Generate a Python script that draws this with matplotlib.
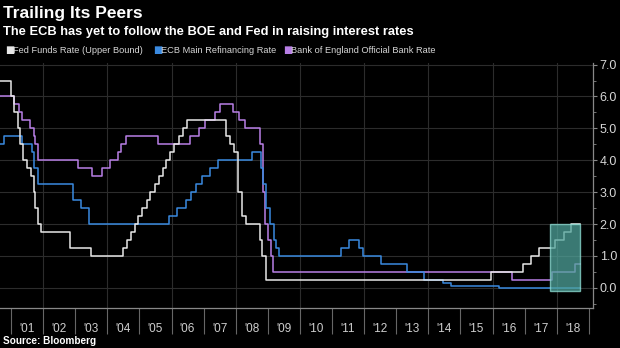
import pandas as pd
import matplotlib
matplotlib.use('Agg')
import matplotlib.pyplot as plt
import matplotlib.dates as mdates
from matplotlib.patches import Rectangle
from matplotlib.ticker import MultipleLocator, FixedLocator, FuncFormatter

plt.rcParams['font.family'] = ['Liberation Sans', 'DejaVu Sans']

# policy rate changes: date the new level took effect, and the level (%)
fed_dates = ['2000-08-28', '2001-01-03', '2001-01-31', '2001-03-20', '2001-04-18',
             '2001-05-15', '2001-06-27', '2001-08-21', '2001-09-17', '2001-10-02',
             '2001-11-06', '2001-12-11', '2002-11-06', '2003-06-25', '2004-06-30',
             '2004-08-10', '2004-09-21', '2004-11-10', '2004-12-14', '2005-02-02',
             '2005-03-22', '2005-05-03', '2005-06-30', '2005-08-09', '2005-09-20',
             '2005-11-01', '2005-12-13', '2006-01-31', '2006-03-28', '2006-05-10',
             '2006-06-29', '2007-09-18', '2007-10-31', '2007-12-11', '2008-01-22',
             '2008-01-30', '2008-03-18', '2008-04-30', '2008-10-08', '2008-10-29',
             '2008-12-16', '2015-12-16', '2016-12-14', '2017-03-15', '2017-06-14',
             '2017-12-13', '2018-03-21', '2018-06-13', '2018-09-20']
fed_rates = [6.5, 6.0, 5.5, 5.0, 4.5,
             4.0, 3.75, 3.5, 3.0, 2.5,
             2.0, 1.75, 1.25, 1.0, 1.25,
             1.5, 1.75, 2.0, 2.25, 2.5,
             2.75, 3.0, 3.25, 3.5, 3.75,
             4.0, 4.25, 4.5, 4.75, 5.0,
             5.25, 4.75, 4.5, 4.25, 3.5,
             3.0, 2.25, 2.0, 1.5, 1.0,
             0.25, 0.5, 0.75, 1.0, 1.25,
             1.5, 1.75, 2.0, 2.0]

ecb_dates = ['2000-08-28', '2000-10-11', '2001-05-11', '2001-08-31', '2001-09-18',
             '2001-11-09', '2002-12-06', '2003-03-07', '2003-06-06', '2005-12-06',
             '2006-03-08', '2006-06-15', '2006-08-09', '2006-10-11', '2006-12-13',
             '2007-03-14', '2007-06-13', '2008-07-09', '2008-10-15', '2008-11-12',
             '2008-12-10', '2009-01-21', '2009-03-11', '2009-04-08', '2009-05-13',
             '2011-04-13', '2011-07-13', '2011-11-09', '2011-12-14', '2012-07-11',
             '2013-05-08', '2013-11-13', '2014-06-11', '2014-09-10', '2016-03-16',
             '2018-09-20']
ecb_rates = [4.5, 4.75, 4.5, 4.25, 3.75,
             3.25, 2.75, 2.5, 2.0, 2.25,
             2.5, 2.75, 3.0, 3.25, 3.5,
             3.75, 4.0, 4.25, 3.75, 3.25,
             2.5, 2.0, 1.5, 1.25, 1.0,
             1.25, 1.5, 1.25, 1.0, 0.75,
             0.5, 0.25, 0.15, 0.05, 0.0,
             0.0]

boe_dates = ['2000-08-28', '2001-02-08', '2001-04-05', '2001-05-10', '2001-08-02',
             '2001-09-18', '2001-10-04', '2001-11-08', '2003-02-06', '2003-07-10',
             '2003-11-06', '2004-02-05', '2004-05-06', '2004-06-10', '2004-08-05',
             '2005-08-04', '2006-08-03', '2006-11-09', '2007-01-11', '2007-05-10',
             '2007-07-05', '2007-12-06', '2008-02-07', '2008-04-10', '2008-10-08',
             '2008-11-06', '2008-12-04', '2009-01-08', '2009-02-05', '2009-03-05',
             '2016-08-04', '2017-11-02', '2018-08-02', '2018-09-20']
boe_rates = [6.0, 5.75, 5.5, 5.25, 5.0,
             4.75, 4.5, 4.0, 3.75, 3.5,
             3.75, 4.0, 4.25, 4.5, 4.75,
             4.5, 4.75, 5.0, 5.25, 5.5,
             5.75, 5.5, 5.25, 5.0, 4.5,
             3.0, 2.0, 1.5, 1.0, 0.5,
             0.25, 0.5, 0.75, 0.75]

series_names = ['Fed Funds Rate (Upper Bound)', 'ECB Main Refinancing Rate',
                'Bank of England Official Bank Rate']
series_colors = ['#e8e8e8', '#3a8ae0', '#b87fe6']

# shaded window and its rate range
box_start, box_end = '2017-10-12', '2018-09-22'
box_low, box_high = -0.1, 2.0

year_labels = ["'%02d" % (y % 100) for y in range(2001, 2019)]

bg = '#000000'
fig = plt.figure(figsize=(6.2, 3.48), dpi=100, facecolor=bg)
ax = fig.add_axes([0.0, 0.115, 0.956, 0.704], facecolor=bg)

series = [(fed_dates, fed_rates), (ecb_dates, ecb_rates), (boe_dates, boe_rates)]
for (d, r), c in zip(series[::-1], series_colors[::-1]):
    ax.step(pd.to_datetime(d), r, where='post', color=c, lw=1.1, zorder=3)

x0 = mdates.date2num(pd.Timestamp(box_start))
x1 = mdates.date2num(pd.Timestamp(box_end))
ax.add_patch(Rectangle((x0, box_low), x1 - x0, box_high - box_low,
                       facecolor='#4fa39a', alpha=0.75, edgecolor='#8fe0d6',
                       lw=1.0, zorder=4))

ax.set_xlim(pd.Timestamp('2000-08-28'), pd.Timestamp('2019-02-14'))
ax.set_ylim(-0.63, 7.05)

# grid
for y in range(0, 8):
    ax.axhline(y, color='#2c2c2c', lw=0.8, zorder=1)
for y in range(2002, 2019, 2):
    ax.axvline(pd.Timestamp('%d-01-01' % y), color='#2c2c2c', lw=0.8, zorder=1)

# x axis: long ticks at year starts, labels mid-year
years = [mdates.date2num(pd.Timestamp('%d-01-01' % y)) for y in range(2001, 2020)]
mids = [mdates.date2num(pd.Timestamp('%d-07-02' % y)) for y in range(2001, 2019)]
ax.xaxis.set_major_locator(FixedLocator(years))
ax.xaxis.set_major_formatter(FuncFormatter(lambda v, p: ''))
ax.xaxis.set_minor_locator(FixedLocator(mids))
ax.xaxis.set_minor_formatter(FuncFormatter(lambda v, p: year_labels[p] if p < len(year_labels) else ''))
ax.tick_params(axis='x', which='major', length=19, width=0.8, color='#666666', direction='out')
ax.tick_params(axis='x', which='minor', length=0, pad=11, labelsize=8.5, labelcolor='#cfcfcf')

# y axis on the right
ax.yaxis.tick_right()
ax.yaxis.set_major_locator(MultipleLocator(1))
ax.yaxis.set_minor_locator(MultipleLocator(0.5))
ax.yaxis.set_major_formatter(FuncFormatter(lambda v, p: '%.1f' % v))
ax.tick_params(axis='y', which='major', length=3, width=0.8, color='#888888',
               labelsize=9, labelcolor='#d6d6d6', pad=2)
ax.tick_params(axis='y', which='minor', length=2, width=0.6, color='#888888')

for s in ['top', 'left']:
    ax.spines[s].set_visible(False)
for s in ['right', 'bottom']:
    ax.spines[s].set_color('#888888')
    ax.spines[s].set_linewidth(0.9)

# headings
fig.text(0.005, 0.948, 'Trailing Its Peers', color='white', fontsize=12.5,
         fontweight='bold', va='baseline', ha='left')
fig.text(0.005, 0.899, 'The ECB has yet to follow the BOE and Fed in raising interest rates',
         color='white', fontsize=9.25, fontweight='bold', va='baseline', ha='left')

# legend row
leg_x = [0.008, 0.247, 0.456]
for lx, name, c in zip(leg_x, series_names, series_colors):
    fig.text(lx, 0.847, '\u25a0', color=c, fontsize=7, va='baseline', ha='left',
             family='DejaVu Sans')
    fig.text(lx + 0.013, 0.847, name, color='#d6d6d6', fontsize=6.7,
             va='baseline', ha='left')

fig.text(0.005, 0.012, 'Source: Bloomberg', color='white', fontsize=7.2,
         fontweight='bold', va='baseline', ha='left')

fig.savefig('out.png', dpi=100, facecolor=bg)
